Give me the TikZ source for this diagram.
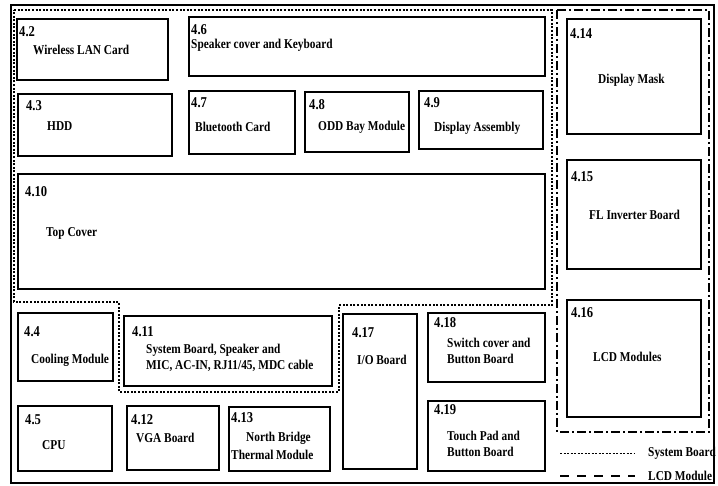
\documentclass[tikz,border=0pt]{standalone}
\usepackage{fontspec}
\setmainfont{Liberation Serif}[FakeStretch=0.84]
\usetikzlibrary{fit}
\begin{document}
\begin{tikzpicture}[x=1pt,y=-1pt,
  box/.style={draw, line width=1.5pt, inner sep=0pt},
  num/.style={anchor=west, inner sep=0pt, font=\bfseries\fontsize{15}{15}\selectfont},
  lbl/.style={anchor=west, inner sep=0pt, align=left, font=\bfseries\fontsize{13.5}{16}\selectfont},
  sysline/.style={line width=1.3pt, dash pattern=on 2pt off 1.6pt},
  lcdline/.style={line width=1.3pt, dash pattern=on 9pt off 3pt on 2pt off 3pt},
  legsys/.style={line width=1pt, dash pattern=on 2pt off 1.5pt},
  leglcd/.style={line width=1.2pt, dash pattern=on 9pt off 8pt},
]
\useasboundingbox (0,0) rectangle (718,486);

% group outlines
\draw[sysline] (14,10) -- (552,10) -- (552,305) -- (339,305) -- (339,392)
  -- (119,392) -- (119,302) -- (14,302) -- cycle;
\draw[lcdline] (557,10) rectangle (709,432);

% boxes
\node[box, fit={(17,19) (168,80)}] (b42) {};
\node[box, fit={(189,17) (545,76)}] (b46) {};
\node[box, fit={(18,94) (172,156)}] (b43) {};
\node[box, fit={(189,91) (295,154)}] (b47) {};
\node[box, fit={(305,92) (409,152)}] (b48) {};
\node[box, fit={(419,91) (543,149)}] (b49) {};
\node[box, fit={(567,19) (701,134)}] (b414) {};
\node[box, fit={(18,174) (545,289)}] (b410) {};
\node[box, fit={(567,160) (701,269)}] (b415) {};
\node[box, fit={(567,300) (701,417)}] (b416) {};
\node[box, fit={(18,313) (113,381)}] (b44) {};
\node[box, fit={(124,316) (332,386)}] (b411) {};
\node[box, fit={(343,314) (417,469)}] (b417) {};
\node[box, fit={(428,313) (545,382)}] (b418) {};
\node[box, fit={(428,401) (545,471)}] (b419) {};
\node[box, fit={(18,406) (112,471)}] (b45) {};
\node[box, fit={(127,406) (219,470)}] (b412) {};
\node[box, fit={(229,407) (330,471)}] (b413) {};

% labels
\node[num] (n42) at (19,32) {4.2};
\node[lbl] (t42) at (33,50) {Wireless LAN Card};
\node[num] (n46) at (191,30) {4.6};
\node[lbl] (t46) at (191,45) {Speaker cover and Keyboard};
\node[num] (n43) at (26,106) {4.3};
\node[lbl] (t43) at (47,126) {HDD};
\node[num] (n47) at (191,103) {4.7};
\node[lbl] (t47) at (195,127) {Bluetooth Card};
\node[num] (n48) at (309,105) {4.8};
\node[lbl] (t48) at (318,127) {ODD Bay Module};
\node[num] (n49) at (424,103) {4.9};
\node[lbl] (t49) at (434,128) {Display Assembly};
\node[num] (n414) at (570,34) {4.14};
\node[lbl] (t414) at (598,80) {Display Mask};
\node[num] (n410) at (25,192) {4.10};
\node[lbl] (t410) at (46,233) {Top Cover};
\node[num] (n415) at (571,177) {4.15};
\node[lbl] (t415) at (589,215) {FL Inverter Board};
\node[num] (n416) at (571,313) {4.16};
\node[lbl] (t416) at (593,357) {LCD Modules};
\node[num] (n44) at (24,332) {4.4};
\node[lbl] (t44) at (31,360) {Cooling Module};
\node[num] (n411) at (132,332) {4.11};
\node[lbl] (t411) at (146,357.5) {System Board, Speaker and\\MIC, AC-IN, RJ11/45, MDC cable};
\node[num] (n417) at (352,333) {4.17};
\node[lbl] (t417) at (357,360) {I/O Board};
\node[num] (n418) at (434,323) {4.18};
\node[lbl] (t418) at (447,351) {Switch cover and\\Button Board};
\node[num] (n419) at (434,410) {4.19};
\node[lbl] (t419) at (447,443.5) {Touch Pad and\\Button Board};
\node[num] (n45) at (25,420) {4.5};
\node[lbl] (t45) at (42,445) {CPU};
\node[num] (n412) at (131,420) {4.12};
\node[lbl] (t412) at (136,438) {VGA Board};
\node[num] (n413) at (231,418) {4.13};
\node[lbl] (t413a) at (246,438) {North Bridge};
\node[lbl] (t413b) at (231,455) {Thermal Module};

% legend
\coordinate (ls1) at (560,453);
\coordinate (ls2) at (635,453);
\coordinate (ll1) at (560,476);
\coordinate (ll2) at (635,476);
\draw[legsys] (ls1) -- (ls2);
\draw[leglcd] (ll1) -- (ll2);
\node[lbl] (lgs) at (648,453) {System Board};
\node[lbl] (lgl) at (648,476) {LCD Module};

% outer frame
\draw[line width=1.5pt] (11,5) rectangle (714,483);
\end{tikzpicture}
\end{document}
